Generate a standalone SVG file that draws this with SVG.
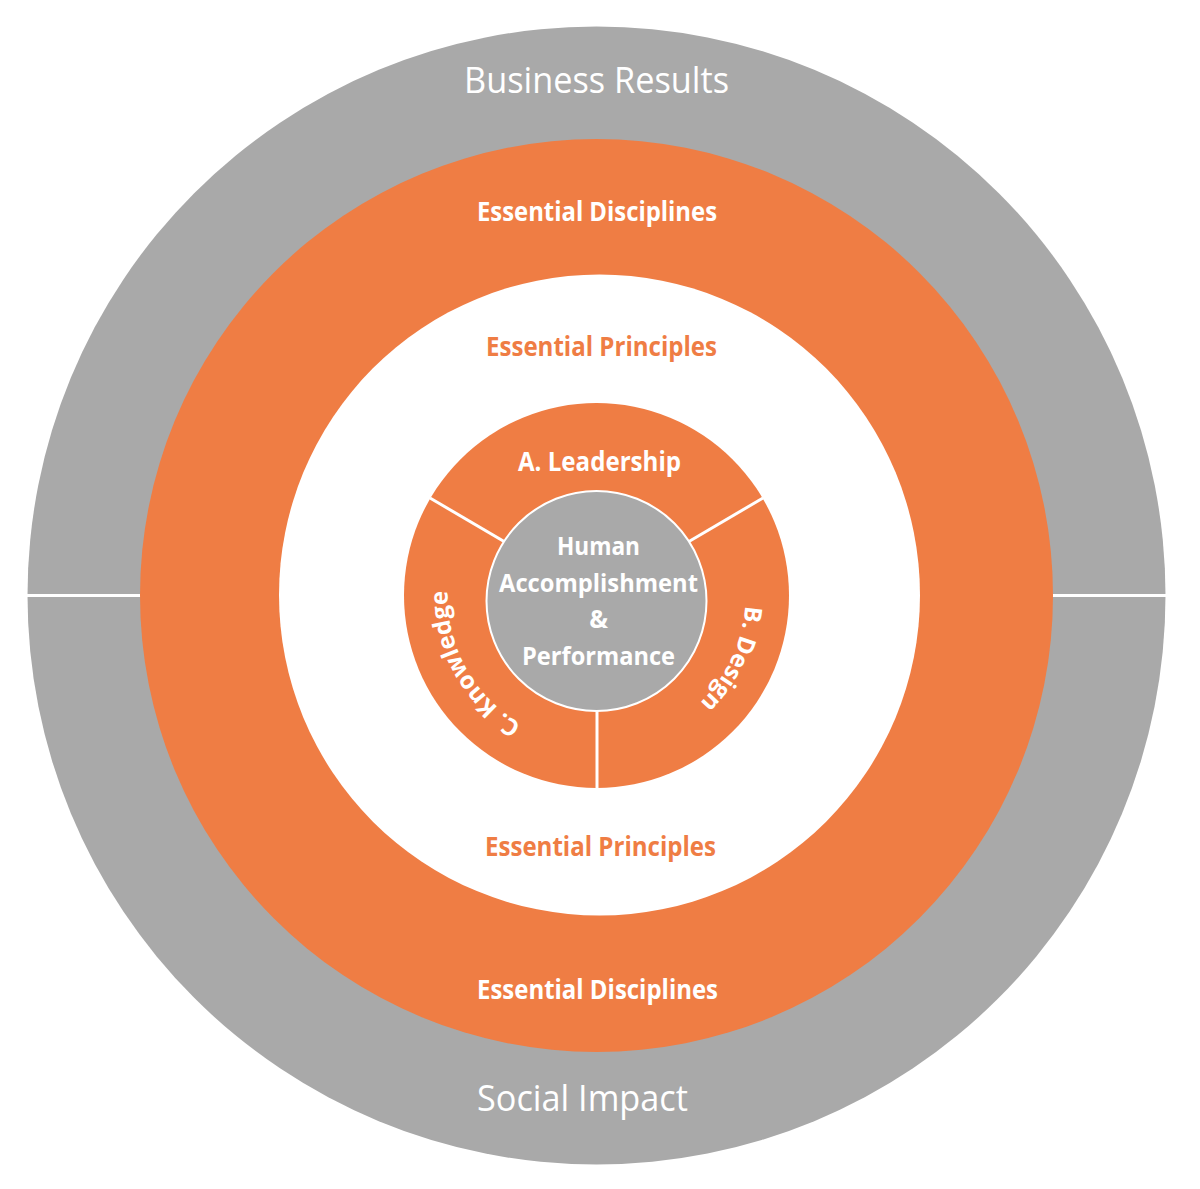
<svg xmlns="http://www.w3.org/2000/svg" width="1200" height="1189" viewBox="0 0 1200 1189">
  <style>
    .t { font-family: "Open Sans", "Noto Sans", "DejaVu Sans", sans-serif; text-anchor: middle; }
    .big { font-size: 37px; font-weight: 400; fill: #ffffff; }
    .lbl { font-size: 26px; font-weight: 700; fill: #ffffff; }
    .lblo { font-size: 26px; font-weight: 700; fill: #EF7D44; }
    .ctr { font-size: 25px; font-weight: 700; fill: #ffffff; }
    .arc { font-size: 24px; font-weight: 700; fill: #ffffff; }
    .div { stroke: #ffffff; stroke-width: 3; fill: none; }
  </style>
  <defs>
    <path id="arcC" d="M 555.43 738.73 A 149 149 0 0 1 453.27 554.43"/>
    <path id="arcB" d="M 736.51 544.54 A 149 149 0 0 1 647.46 735.51"/>
  </defs>
  <rect width="1200" height="1189" fill="#ffffff"/>

  <g id="outer-ring">
    <circle cx="596.5" cy="595.5" r="569" fill="#A9A9A9"/>
  </g>

  <g id="connectors">
    <line class="div" x1="20" y1="595.5" x2="1180" y2="595.5"/>
  </g>

  <g id="essential-disciplines">
    <circle cx="596.5" cy="595.5" r="456.5" fill="#EF7D44"/>
  </g>

  <g id="essential-principles">
    <circle cx="599.5" cy="595" r="320.5" fill="#ffffff"/>
  </g>

  <g id="inner-ring">
    <circle cx="596.5" cy="595.5" r="192.5" fill="#EF7D44"/>
  </g>

  <g id="inner-dividers">
    <line class="div" x1="430" y1="498" x2="510" y2="545"/>
    <line class="div" x1="763" y1="498" x2="683" y2="545"/>
    <line class="div" x1="597" y1="700" x2="597" y2="790"/>
  </g>

  <g id="center">
    <circle cx="596.5" cy="601" r="110" fill="#A9A9A9" stroke="#ffffff" stroke-width="2"/>
    <text class="t ctr" x="598.5" y="555" textLength="83" lengthAdjust="spacingAndGlyphs">Human</text>
    <text class="t ctr" x="598.5" y="592" textLength="199" lengthAdjust="spacingAndGlyphs">Accomplishment</text>
    <text class="t ctr" x="598.5" y="628">&amp;</text>
    <text class="t ctr" x="598.5" y="665" textLength="153" lengthAdjust="spacingAndGlyphs">Performance</text>
  </g>

  <g id="labels-outer">
    <text class="t big" x="596.5" y="93" textLength="265" lengthAdjust="spacingAndGlyphs">Business Results</text>
    <text class="t big" x="582.5" y="1111" textLength="211" lengthAdjust="spacingAndGlyphs">Social Impact</text>
  </g>

  <g id="labels-disciplines">
    <text class="t lbl" x="597" y="221" textLength="240" lengthAdjust="spacingAndGlyphs">Essential Disciplines</text>
    <text class="t lbl" x="597.5" y="999" textLength="241" lengthAdjust="spacingAndGlyphs">Essential Disciplines</text>
  </g>

  <g id="labels-principles">
    <text class="t lblo" x="601.5" y="356" textLength="231" lengthAdjust="spacingAndGlyphs">Essential Principles</text>
    <text class="t lblo" x="600.5" y="856" textLength="231" lengthAdjust="spacingAndGlyphs">Essential Principles</text>
  </g>

  <g id="leadership">
    <text class="t lbl" x="599.5" y="471" textLength="163" lengthAdjust="spacingAndGlyphs">A. Leadership</text>
  </g>

  <g id="design">
    <text class="t arc"><textPath href="#arcB" startOffset="50%">B. Design</textPath></text>
  </g>

  <g id="knowledge">
    <text class="t arc"><textPath href="#arcC" startOffset="50%">C. Knowledge</textPath></text>
  </g>
</svg>
